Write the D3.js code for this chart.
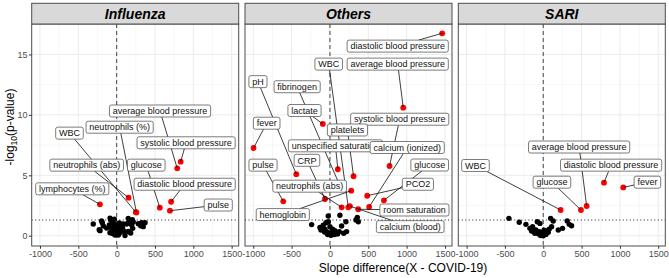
<!DOCTYPE html>
<html><head><meta charset="utf-8">
<script src="https://cdn.jsdelivr.net/npm/d3@7"></script>
<style>body{margin:0;background:#fff} svg{display:block;font-family:"Liberation Sans",Arial,sans-serif}</style>
</head><body><svg id="c" width="669" height="278"></svg>
<script>
// ---------- data ----------
const panels = ["Influenza", "Others", "SARI"];
const xTicks = [-1000, -500, 0, 500, 1000, 1500];
const yTicks = [0, 5, 10, 15];
const pThreshold = 0.05;

// significant features: [name, slope difference, -log10(p)]
const sigInfluenza = [
  ["average blood pressure", 790, 5.58],
  ["neutrophils (%)", 258, 1.92],
  ["WBC", 250, 1.95],
  ["systolic blood pressure", 835, 6.13],
  ["neutrophils (abs)", 156, 3.15],
  ["glucose", 563, 2.32],
  ["diastolic blood pressure", 710, 2.81],
  ["lymphocytes (%)", -218, 2.6],
  ["pulse", 695, 2.07]
];
const sigOthers = [
  ["diastolic blood pressure", 1464, 16.75],
  ["average blood pressure", 956, 10.6],
  ["WBC", 239, 2.35],
  ["pH", -439, 5.09],
  ["fibrinogen", 116, 4.34],
  ["lactate", -93, 9.25],
  ["systolic blood pressure", 777, 5.77],
  ["fever", -996, 7.26],
  ["platelets", 308, 4.92],
  ["unspecified saturation", 103, 5.5],
  ["calcium (ionized)", 511, 2.38],
  ["CRP", -65, 3.04],
  ["pulse", -609, 2.85],
  ["glucose", 704, 2.93],
  ["neutrophils (abs)", 153, 2.35],
  ["PCO2", 486, 3.31],
  ["room saturation", 369, 2.19],
  ["hemoglobin", 278, 3.73],
  ["calcium (blood)", 260, 2.45]
];
const sigSARI = [
  ["average blood pressure", 566, 2.46],
  ["diastolic blood pressure", 792, 4.39],
  ["fever", 1043, 4.0],
  ["WBC", 227, 2.13],
  ["glucose", 492, 2.13]
];

// non-significant features: [slope difference, -log10(p)]
const nsInfluenza = [
  [-305,0.97],[-217,0.42],[-196,1.22],[-187,1.08],[-174,0.8],[-227,0.5],[-86,1.46],[-78,1.3],
  [-52,1.13],[-30,1.36],[-95,0.9],[-65,0.63],[-43,0.36],[-9,0.77],[9,0.55],[35,1.05],[52,0.83],
  [78,0.63],[100,0.36],[130,0.97],[151,1.44],[205,1.33],[156,1.1],[196,0.88],[217,1.13],[209,0.61],
  [283,1.0],[313,0.83],[326,1.08],[347,0.75],[370,1.08],[0,0.19],[-22,0.06],[22,0.06],[43,0.25],
  [-87,0.25],[-130,0.63],[152,0.36],[183,0.22],[109,0.02],[-52,0.19],[-10,0.45],[60,0.45],
  [-30,0.95],[86,0.97],[20,0.3],[-60,0.5]
];
const nsOthers = [
  [-239,0.92],[-22,1.63],[130,1.7],[-130,0.69],[-117,0.47],[-87,0.88],[-65,0.53],[-43,0.34],
  [-9,0.2],[22,0.06],[43,0.25],[87,0.2],[122,0.34],[152,0.8],[217,0.34],[208,1.16],[339,1.3],
  [357,1.52],[370,1.16],[-22,1.16],[0,0.75],[35,0.53],[65,0.41],[-52,1.08],[-100,0.6],[-30,0.1],
  [10,0.05],[60,0.1],[100,0.15],[-70,0.3],[180,0.2]
];
const nsSARI = [
  [-448,1.44],[-313,1.11],[-226,0.94],[-174,0.61],[-139,0.75],[-78,1.16],[-43,1.02],[-152,0.39],
  [-96,0.47],[-52,0.33],[-22,0.11],[0,0.0],[22,0.19],[43,0.39],[78,0.55],[96,1.44],[130,1.22],
  [109,0.75],[196,0.47],[252,0.61],[313,1.22],[339,0.94],[370,0.83],[-35,0.02],[35,0.11],
  [65,0.28],[-9,0.28],[-60,0.15],[10,0.45],[-110,0.2]
];

// repelled label placement (label centre, in data units), same order as the sig arrays
const labelPosInfluenza = [
  [566,10.32],[39,8.98],[-615,8.49],[906,7.69],[-391,5.84],[386,5.84],[887,4.26],[-579,3.88],[1325,2.54]
];
const labelPosOthers = [
  [884,15.69],[884,14.2],[-16,14.2],[-939,12.75],[-428,12.33],[-332,10.36],[910,9.64],[-825,9.31],
  [228,8.75],[72,7.44],[1008,7.3],[-300,6.24],[-873,5.84],[1301,5.85],[-265,4.1],[1147,4.26],
  [1102,2.13],[-615,1.75],[1047,0.75]
];
const labelPosSARI = [
  [468,7.34],[885,5.84],[1359,4.43],[-884,5.81],[113,4.43]
];

const sigData = [sigInfluenza, sigOthers, sigSARI];
const nsData = [nsInfluenza, nsOthers, nsSARI];
const labelData = [labelPosInfluenza, labelPosOthers, labelPosSARI];

// ---------- layout ----------
const svg = d3.select("#c");
const PW = 207, PT = 24, PB = 246, ST = 3.3;
const lefts = [31.7, 245, 458.3];
const y = d3.scaleLinear().domain([-0.85, 17.52]).range([PB, PT]);
const xMinor = [-750, -250, 250, 750, 1250];
const yMinor = [2.5, 7.5, 12.5, 17.5];

panels.forEach((name, i) => {
  const L = lefts[i];
  const x = d3.scaleLinear().domain([-1108, 1592]).range([L, L + PW]);
  const g = svg.append("g");

  g.append("rect").attr("x", L).attr("y", PT).attr("width", PW).attr("height", PB - PT).attr("fill", "#fff");
  // minor grid
  g.selectAll(".vm").data(xMinor).join("line")
    .attr("x1", d => x(d)).attr("x2", d => x(d)).attr("y1", PT).attr("y2", PB)
    .attr("stroke", "#F2F2F2").attr("stroke-width", 0.6);
  g.selectAll(".hm").data(yMinor).join("line")
    .attr("x1", L).attr("x2", L + PW).attr("y1", d => y(d)).attr("y2", d => y(d))
    .attr("stroke", "#F2F2F2").attr("stroke-width", 0.6);
  // major grid
  g.selectAll(".vM").data(xTicks).join("line")
    .attr("x1", d => x(d)).attr("x2", d => x(d)).attr("y1", PT).attr("y2", PB)
    .attr("stroke", "#EBEBEB").attr("stroke-width", 1);
  g.selectAll(".hM").data(yTicks).join("line")
    .attr("x1", L).attr("x2", L + PW).attr("y1", d => y(d)).attr("y2", d => y(d))
    .attr("stroke", "#EBEBEB").attr("stroke-width", 1);

  // reference lines
  g.append("line").attr("x1", L).attr("x2", L + PW)
    .attr("y1", y(-Math.log10(pThreshold))).attr("y2", y(-Math.log10(pThreshold)))
    .attr("stroke", "#000").attr("stroke-width", 0.9).attr("stroke-dasharray", "1,2.5");
  g.append("line").attr("x1", x(0)).attr("x2", x(0)).attr("y1", PT).attr("y2", PB)
    .attr("stroke", "#555").attr("stroke-width", 1.1).attr("stroke-dasharray", "4,3");

  // points
  g.selectAll(".ns").data(nsData[i]).join("circle")
    .attr("cx", d => x(d[0])).attr("cy", d => y(d[1])).attr("r", 2.7).attr("fill", "#000");
  g.selectAll(".sig").data(sigData[i]).join("circle")
    .attr("cx", d => x(d[1])).attr("cy", d => y(d[2])).attr("r", 2.9).attr("fill", "#FF0000");

  // labels
  sigData[i].forEach((d, k) => {
    const pos = labelData[i][k];
    const cx = x(pos[0]), cy = y(pos[1]);
    const lg = g.append("g");
    const seg = lg.append("line");
    const rect = lg.append("rect");
    const t = lg.append("text").attr("x", cx).attr("y", cy + 3.2)
      .attr("text-anchor", "middle").attr("font-size", 9).attr("fill", "#111").text(d[0]);
    const tw = t.node().getComputedTextLength();
    const hw = tw / 2 + 3.3, hh = 6;
    rect.attr("x", cx - hw).attr("y", cy - hh).attr("width", hw * 2).attr("height", hh * 2)
      .attr("rx", 2).attr("fill", "#fff").attr("stroke", "#444").attr("stroke-width", 0.7);
    const px = x(d[1]), py = y(d[2]);
    const dx = px - cx, dy = py - cy;
    const tt = Math.min(dx !== 0 ? hw / Math.abs(dx) : Infinity, dy !== 0 ? hh / Math.abs(dy) : Infinity);
    if (tt < 1) {
      seg.attr("x1", cx + dx * tt).attr("y1", cy + dy * tt).attr("x2", px).attr("y2", py)
        .attr("stroke", "#000").attr("stroke-width", 0.75);
    }
  });

  // panel border
  g.append("rect").attr("x", L).attr("y", PT).attr("width", PW).attr("height", PB - PT)
    .attr("fill", "none").attr("stroke", "#4d4d4d").attr("stroke-width", 1);
  // strip
  g.append("rect").attr("x", L).attr("y", ST).attr("width", PW).attr("height", PT - ST)
    .attr("fill", "#D9D9D9").attr("stroke", "#4d4d4d").attr("stroke-width", 1);
  g.append("text").attr("x", L + PW / 2).attr("y", (ST + PT) / 2 + 5)
    .attr("text-anchor", "middle").attr("font-size", 14).attr("font-weight", "bold")
    .attr("font-style", "italic").attr("fill", "#000").text(name);

  // x axis
  const ax = svg.append("g").attr("transform", `translate(0,${PB})`)
    .call(d3.axisBottom(x).tickValues(xTicks).tickSize(2.75).tickPadding(1.5).tickFormat(d3.format("d")));
  ax.select(".domain").remove();
  ax.selectAll(".tick line").attr("stroke", "#333");
  ax.selectAll(".tick text").attr("fill", "#4D4D4D").attr("font-size", 9)
    .attr("font-family", '"Liberation Sans",Arial,sans-serif').text(d => d < 0 ? "-" + Math.abs(d) : d);

  if (i === 0) {
    const ay = svg.append("g").attr("transform", `translate(${L},0)`)
      .call(d3.axisLeft(y).tickValues(yTicks).tickSize(2.75).tickPadding(1.5));
    ay.select(".domain").remove();
    ay.selectAll(".tick line").attr("stroke", "#333");
    ay.selectAll(".tick text").attr("fill", "#4D4D4D").attr("font-size", 9)
      .attr("font-family", '"Liberation Sans",Arial,sans-serif');
  }
});

// axis titles
svg.append("text").attr("x", 403).attr("y", 272).attr("text-anchor", "middle")
  .attr("font-size", 12).attr("fill", "#000").text("Slope difference(X - COVID-19)");
const yt = svg.append("text").attr("transform", "translate(14,127) rotate(-90)")
  .attr("text-anchor", "middle").attr("font-size", 12).attr("fill", "#000");
yt.append("tspan").text("-log");
yt.append("tspan").attr("font-size", 8.5).attr("dy", 3).text("10");
yt.append("tspan").attr("dy", -3).text("(p-value)");
</script></body></html>
